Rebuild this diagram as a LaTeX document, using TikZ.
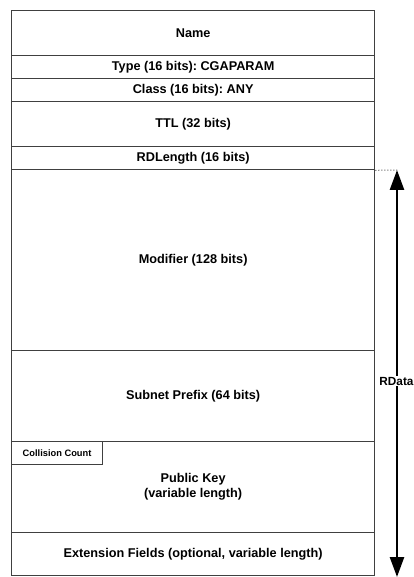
\documentclass[tikz,border=0pt]{standalone}
\usepackage{fontspec}
\setmainfont{Liberation Sans}
\usetikzlibrary{arrows.meta}
\begin{document}
\frenchspacing
\begin{tikzpicture}[x=1pt,y=-1pt,
  field/.style={draw=black!75, line width=1.3pt, minimum width=363pt, inner sep=0pt, anchor=north west, font=\fontsize{12.7}{15}\selectfont\bfseries, align=center},
  small/.style={draw=black!75, line width=1.1pt, inner sep=0pt, anchor=north west, font=\fontsize{9.3}{11}\selectfont\bfseries}]
\useasboundingbox (0,0) rectangle (414,577);
\fill[white] (0,0) rectangle (414,577);
\node[field, minimum height=45pt] (name) at (11,10) {Name};
\node[field, minimum height=23pt] (type) at (11,55) {Type (16 bits): CGAPARAM};
\node[field, minimum height=23pt] (class) at (11,78) {Class (16 bits): ANY};
\node[field, minimum height=45pt] (ttl) at (11,101) {TTL (32 bits)};
\node[field, minimum height=23pt] (rdl) at (11,146) {RDLength (16 bits)};
\node[field, minimum height=181pt] (mod) at (11,169) {Modifier (128 bits)};
\node[field, minimum height=91pt] (sub) at (11,350) {Subnet Prefix (64 bits)};
\node[field, minimum height=91pt] (pk) at (11,441) {Public Key\\(variable length)};
\node[field, minimum height=43pt] (ext) at (11,532) {Extension Fields (optional, variable length)};
\node[small, minimum width=91pt, minimum height=23pt] (cc) at (11,441) {Collision Count};
\coordinate (top) at (397,170);
\coordinate (bot) at (397,577);
\draw[dotted, line width=1pt, black!70] (rdl.south east) -- (top);
\draw[line width=2.6pt, -{Triangle[width=14pt,length=20pt]}] (397,381) -- (bot);
\draw[line width=2.6pt, -{Triangle[width=14pt,length=20pt]}] (397,381) -- (top);
\node[fill=white, inner sep=1pt, font=\fontsize{11.8}{14}\selectfont\bfseries] (rdata) at (396.5,381) {RData};
\end{tikzpicture}
\end{document}
